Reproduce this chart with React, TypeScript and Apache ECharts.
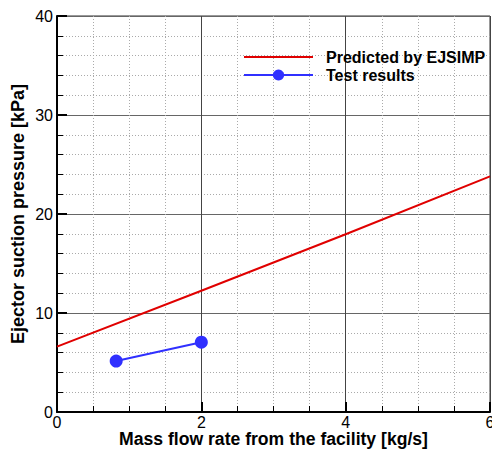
import React, { useEffect, useRef } from "react";
import * as echarts from "echarts";

const predictedX = [0, 2, 4, 6];
const predictedY = [6.6, 12.25, 17.95, 23.8];
const testX = [0.82, 2.0];
const testY = [5.15, 7.05];
const xTicks = { min: 0, max: 6, interval: 2 };
const yTicks = { min: 0, max: 40, interval: 10 };

export default function App() {
  const ref = useRef<HTMLDivElement>(null);
  useEffect(() => {
    const chart = echarts.init(ref.current!, undefined, { renderer: "svg" });
    const font = "Arial, 'Liberation Sans', sans-serif";
    chart.setOption({
      animation: false,
      backgroundColor: "#ffffff",
      textStyle: { fontFamily: font },
      grid: {
        left: 57,
        right: 2,
        top: 16,
        bottom: 40,
        containLabel: false,
        outerBoundsMode: "none",
        show: true,
        borderColor: "#333",
        borderWidth: 1,
      },
      legend: {
        orient: "vertical",
        left: 238,
        top: 44,
        itemWidth: 69,
        itemHeight: 14,
        itemGap: 2,
        textStyle: {
          fontSize: 16,
          fontWeight: "bold",
          color: "#000",
          fontFamily: font,
          padding: [0, 0, 0, 8],
        },
        data: [
          { name: "Predicted by EJSIMP", icon: "path://M0 0 H69 V2 H0 Z" },
          { name: "Test results" },
        ],
      },
      xAxis: {
        type: "value",
        min: xTicks.min,
        max: xTicks.max,
        interval: xTicks.interval,
        name: "Mass flow rate from the facility [kg/s]",
        nameLocation: "middle",
        nameGap: 19,
        nameMoveOverlap: false,
        nameTextStyle: {
          fontSize: 17.6,
          fontWeight: "bold",
          color: "#000",
          fontFamily: font,
          lineHeight: 15,
        },
        axisLine: { lineStyle: { color: "#000", width: 2 } },
        axisTick: { inside: true, length: 10, lineStyle: { color: "#000", width: 2 } },
        minorTick: { show: true, splitNumber: 4, length: 6, lineStyle: { color: "#000", width: 1 } },
        axisLabel: { fontSize: 16, color: "#000", margin: 4, fontFamily: font, lineHeight: 13 },
        splitLine: { show: true, lineStyle: { color: "#444", width: 1 } },
        minorSplitLine: { show: true, lineStyle: { color: "#aaa", width: 1, type: [1, 2] } },
      },
      yAxis: {
        type: "value",
        min: yTicks.min,
        max: yTicks.max,
        interval: yTicks.interval,
        name: "Ejector suction pressure [kPa]",
        nameLocation: "middle",
        nameGap: 30,
        nameMoveOverlap: false,
        nameTextStyle: { fontSize: 18, fontWeight: "bold", color: "#000", fontFamily: font },
        axisLine: { show: true, lineStyle: { color: "#000", width: 2 } },
        axisTick: { show: true, inside: true, length: 10, lineStyle: { color: "#000", width: 2 } },
        minorTick: { show: true, splitNumber: 5, length: 6, lineStyle: { color: "#000", width: 1 } },
        axisLabel: { fontSize: 16, color: "#000", margin: 4, fontFamily: font },
        splitLine: { show: true, lineStyle: { color: "#666", width: 1 } },
        minorSplitLine: { show: true, lineStyle: { color: "#aaa", width: 1, type: [1, 2] } },
      },
      series: [
        {
          name: "Predicted by EJSIMP",
          type: "line",
          data: predictedX.map((x, i) => [x, predictedY[i]]),
          symbol: "none",
          lineStyle: { color: "#e00000", width: 2 },
          itemStyle: { color: "#e00000" },
        },
        {
          name: "Test results",
          type: "line",
          data: testX.map((x, i) => [x, testY[i]]),
          symbol: "circle",
          symbolSize: 13,
          lineStyle: { color: "#3030ff", width: 2 },
          itemStyle: { color: "#3030ff" },
        },
      ],
    });
    return () => chart.dispose();
  }, []);
  return (
    <div
      ref={ref}
      style={{ position: "fixed", left: 0, top: 0, width: 492, height: 452 }}
    />
  );
}
